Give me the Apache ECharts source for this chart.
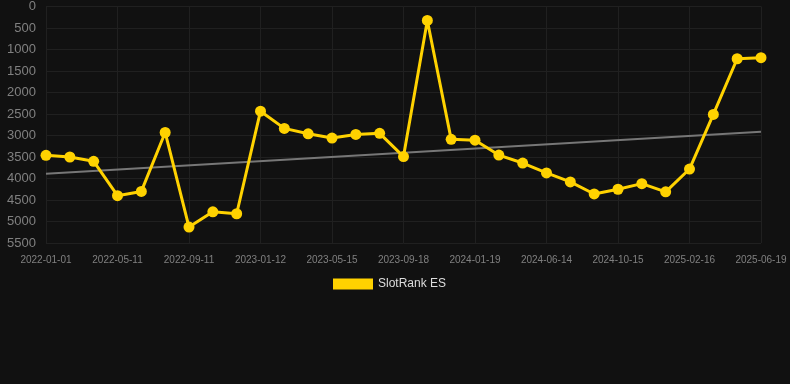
<!DOCTYPE html>
<html>
<head>
<meta charset="utf-8">
<script src="https://cdn.jsdelivr.net/npm/echarts@6/dist/echarts.min.js"></script>
<style>
  html, body { margin: 0; padding: 0; background: #111111; }
  #chart { width: 790px; height: 384px; }
</style>
</head>
<body>
<div id="chart"></div>
<script>
// dates (x axis)
var dates = [
    '2022-01-01', '2022-02-13', '2022-03-28', '2022-05-11', '2022-06-22', '2022-08-01',
    '2022-09-11', '2022-10-24', '2022-12-02', '2023-01-12', '2023-02-24', '2023-04-03',
    '2023-05-15', '2023-06-26', '2023-08-06', '2023-09-18', '2023-10-30', '2023-12-09',
    '2024-01-19', '2024-03-06', '2024-04-28', '2024-06-14', '2024-07-28', '2024-09-02',
    '2024-10-15', '2024-11-26', '2025-01-05', '2025-02-16', '2025-03-29', '2025-05-08',
    '2025-06-19'
];

// rank values
var rank = [
    3460, 3500, 3600, 4400, 4300, 2930,
    5130, 4775, 4820, 2435, 2835, 2960,
    3060, 2975, 2950, 3490, 325, 3090,
    3110, 3455, 3640, 3870, 4080, 4360,
    4250, 4120, 4310, 3780, 2510, 1215,
    1190
];

// trend line, only the two ends
var trend = [3890];
for (var i = 1; i < dates.length - 1; i++) trend.push(null);
trend.push(2910);

var myChart = echarts.init(document.getElementById('chart'));

var option = {
    backgroundColor: '#111111',
    animation: false,
    grid: {
        left: 46,
        right: 29,
        top: 6,
        bottom: 141
    },
    legend: {
        data: [{ name: 'SlotRank ES', icon: 'rect' }],
        top: 273,
        left: 328,
        itemWidth: 40,
        itemHeight: 11,
        itemGap: 10,
        textStyle: { color: '#dddddd', fontSize: 12 }
    },
    xAxis: {
        type: 'category',
        data: dates,
        boundaryGap: false,
        axisLine: { show: false },
        axisTick: { show: false },
        axisLabel: {
            color: '#808080',
            fontSize: 10,
            interval: 2,
            margin: 12
        },
        splitLine: {
            show: true,
            interval: 2,
            lineStyle: { color: '#202020' }
        }
    },
    yAxis: {
        type: 'value',
        inverse: true,
        min: 0,
        max: 5500,
        interval: 500,
        axisLine: { show: false },
        axisTick: { show: false },
        axisLabel: {
            color: '#808080',
            fontSize: 13,
            margin: 10,
            formatter: function (v) { return String(v); }
        },
        splitLine: { lineStyle: { color: '#202020' } }
    },
    series: [
        {
            name: 'trend',
            type: 'line',
            data: trend,
            connectNulls: true,
            symbol: 'none',
            silent: true,
            lineStyle: { color: '#777777', width: 2 },
            z: 1
        },
        {
            name: 'SlotRank ES',
            type: 'line',
            data: rank,
            symbol: 'circle',
            symbolSize: 11,
            itemStyle: { color: '#FFD200' },
            lineStyle: { color: '#FFD200', width: 3 },
            z: 2
        }
    ]
};

myChart.setOption(option);
</script>
</body>
</html>
